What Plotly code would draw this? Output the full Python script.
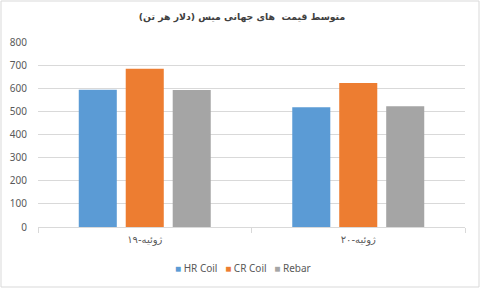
import plotly.graph_objects as go

categories = ["ژوئیه-۱۹", "ژوئیه-۲۰"]
series_names = ["HR Coil", "CR Coil", "Rebar"]
hr_coil = [593, 518]
cr_coil = [684, 623]
rebar = [592, 522]
colors = ["#5B9BD5", "#ED7D31", "#A5A5A5"]
title_text = "متوسط قیمت  های جهانی میس (دلار هر تن)"
y_ticks = [0, 100, 200, 300, 400, 500, 600, 700, 800]

fig = go.Figure()
for name, vals, col in zip(series_names, [hr_coil, cr_coil, rebar], colors):
    fig.add_trace(go.Bar(x=categories, y=vals, name=name, marker_color=col,
                         marker_line_width=0))

W, H = 481, 289
ml, mr, mt, mb = 38, 16, 42, 62
pw, ph = W - ml - mr, H - mt - mb

fig.update_layout(
    width=W, height=H, autosize=False,
    margin=dict(l=ml, r=mr, t=mt, b=mb, autoexpand=False),
    paper_bgcolor="white", plot_bgcolor="white",
    font=dict(family="DejaVu Sans, Noto Sans", size=10, color="#595959"),
    barmode="group", bargap=0.34, bargroupgap=0.19,
    title=dict(text="<b>" + title_text + "</b>", x=(242 - ml) / pw, xref="paper",
               xanchor="center", y=1 - 17 / H, yanchor="middle",
               font=dict(size=9.3, color="#404040", family="DejaVu Sans")),
    showlegend=False,
    xaxis=dict(showgrid=False, showline=True, linecolor="#D9D9D9", linewidth=1,
               ticks="outside", tickson="boundaries", ticklen=5, tickcolor="#D9D9D9",
               ticklabelstandoff=3,
               tickfont=dict(size=10, color="#595959", family="DejaVu Sans"),
               automargin=False, fixedrange=True),
    yaxis=dict(range=[0, 800], tickvals=y_ticks, showgrid=True, gridcolor="#D9D9D9",
               gridwidth=1, zeroline=False, showline=False, automargin=False,
               ticks="", ticklabelstandoff=10,
               tickfont=dict(size=10, color="#595959", family="Noto Sans")),
)

# compact legend built from the series names / colours
legend_html = "&nbsp;&nbsp;&nbsp;".join(
    "<span style='color:%s'>■</span> %s" % (c, n) for n, c in zip(series_names, colors))
fig.add_annotation(text=legend_html, xref="paper", yref="paper",
                   x=(243 - ml) / pw, y=-(268 - (mt + ph)) / ph,
                   xanchor="center", yanchor="middle", showarrow=False,
                   font=dict(size=10, color="#595959", family="Noto Sans"))

# outer chart border
fig.add_shape(type="rect", xref="paper", yref="paper",
              x0=(1 - ml) / pw, x1=(W - 2 - ml) / pw,
              y0=(mt + ph - (H - 2)) / ph, y1=(mt + ph - 1) / ph,
              line=dict(color="#D9D9D9", width=1), fillcolor="rgba(0,0,0,0)",
              layer="below")

fig.write_html("out.html")
